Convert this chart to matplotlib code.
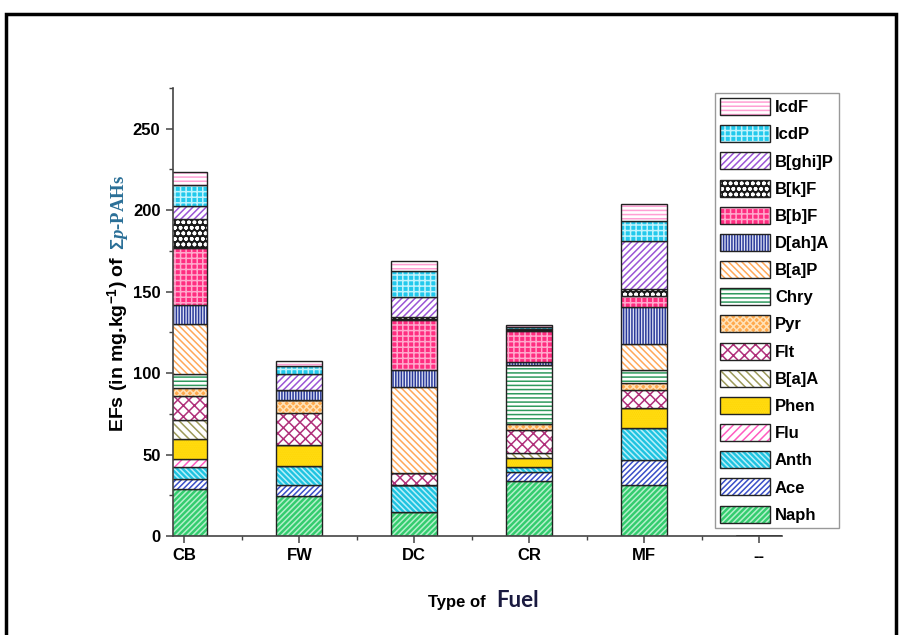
import matplotlib
matplotlib.use("Agg")
import matplotlib.pyplot as plt
import numpy as np
from matplotlib.patches import Patch, Rectangle
from matplotlib.ticker import FixedLocator, MultipleLocator


fuels = ["CB", "FW", "DC", "CR", "MF", "--"]

# stacked from the bottom up
pahs = ["Naph", "Ace", "Anth", "Flu", "Phen", "B[a]A", "Flt", "Pyr",
        "Chry", "B[a]P", "D[ah]A", "B[b]F", "B[k]F", "B[ghi]P", "IcdP", "IcdF"]

naph = [28.6, 24.5, 14.9, 33.9, 31.3, 0]
ace = [6.1, 6.8, 0.0, 5.6, 15.3, 0]
anth = [7.4, 11.6, 16.4, 3.0, 19.4, 0]
flu = [5.1, 0.0, 0.0, 0.0, 0.0, 0]
phen = [12.6, 12.9, 0.0, 5.1, 12.3, 0]
baa = [11.7, 0.0, 0.0, 3.4, 0.0, 0]
flt = [14.3, 19.9, 7.5, 14.0, 11.2, 0]
pyr = [5.3, 7.6, 0.0, 4.0, 4.5, 0]
chry = [8.6, 0.0, 0.0, 35.8, 7.7, 0]
bap = [30.2, 0.0, 52.7, 0.0, 16.3, 0]
daha = [11.6, 6.6, 10.2, 2.0, 22.5, 0]
bbf = [35.4, 0.0, 30.7, 19.0, 6.6, 0]
bkf = [17.8, 0.0, 2.0, 1.0, 4.7, 0]
bghip = [8.1, 9.5, 12.3, 0.0, 29.2, 0]
icdp = [12.9, 4.7, 15.9, 1.5, 12.2, 0]
icdf = [7.5, 3.1, 6.5, 1.0, 10.6, 0]

values = [naph, ace, anth, flu, phen, baa, flt, pyr,
          chry, bap, daha, bbf, bkf, bghip, icdp, icdf]

# (fill, hatch colour, hatch)
styles = [
    ("#33cc6e", "#b4f0cb", "//////"),
    ("white", "#3a4fc8", "//////"),
    ("#1fc3e0", "#b8f0fa", "\\\\\\\\\\\\"),
    ("white", "#ff5cc0", "////"),
    ("#ffe31a", "#ffd000", "........"),
    ("white", "#9c9a5a", "\\\\\\\\"),
    ("white", "#b0307a", "xxx"),
    ("#ffa94d", "#ffe2b8", "xxxxx"),
    ("white", "#2f9a5e", "----"),
    ("white", "#ffa95a", "\\\\\\\\\\"),
    ("#e2e6f6", "#2b3a9a", "||||||"),
    ("#ff2d80", "#ffa8cc", "+++"),
    ("#1a1a1a", "white", "ooo"),
    ("white", "#9b55d6", "/////"),
    ("#22c9ec", "#c0f3fc", "+++"),
    ("white", "#ff9fd4", "----"),
]

plt.rcParams["font.family"] = ["Liberation Sans", "DejaVu Sans"]
plt.rcParams["font.weight"] = "bold"
plt.rcParams["hatch.linewidth"] = 1.1
plt.rcParams["mathtext.fontset"] = "custom"
plt.rcParams["mathtext.rm"] = "Liberation Sans:bold"
plt.rcParams["mathtext.bf"] = "Liberation Sans:bold"
plt.rcParams["mathtext.it"] = "Liberation Serif:italic:bold"

fig = plt.figure(figsize=(9.03, 6.35), dpi=100)
ax = fig.add_axes([173 / 903, 1 - 536 / 635, (782 - 173) / 903, (536 - 88) / 635])

x = np.arange(1, len(fuels) + 1)
width = 0.4
bottom = np.zeros(len(fuels))
handles = []
for name, vals, (fc, hc, h) in zip(pahs, values, styles):
    vals = np.array(vals)
    ax.bar(x, vals, width, bottom=bottom, color=fc, edgecolor=hc, hatch=h, linewidth=0)
    ax.bar(x, vals, width, bottom=bottom, fill=False, edgecolor="#222222", linewidth=1.0)
    bottom += vals
    handles.append((Patch(facecolor=fc, edgecolor=hc, hatch=h, linewidth=0),
                    Patch(facecolor="none", edgecolor="#222222", linewidth=1.0)))

ax.set_xlim(0.9, 6.2)
ax.set_ylim(0, 275)
ax.set_xticks(x)
ax.set_xticklabels(fuels)
ax.xaxis.set_minor_locator(FixedLocator(x[:-1] + 0.5))
ax.yaxis.set_major_locator(MultipleLocator(50))
ax.yaxis.set_minor_locator(MultipleLocator(25))
for s in ["top", "right"]:
    ax.spines[s].set_visible(False)
for s in ["left", "bottom"]:
    ax.spines[s].set_color("#444444")
    ax.spines[s].set_linewidth(1.2)
ax.tick_params(which="major", length=5, width=1.1, color="#444444", labelsize=12, pad=4)
ax.tick_params(which="minor", length=3, width=1.0, color="#444444")
for lab in ax.get_xticklabels() + ax.get_yticklabels():
    lab.set_fontweight("bold")

ax.legend(handles[::-1], pahs[::-1], loc="upper left",
          bbox_to_anchor=(715 / 903, 1 - 93 / 635), bbox_transform=fig.transFigure,
          borderaxespad=0, fancybox=False, edgecolor="#999999", framealpha=1,
          prop={"weight": "bold", "size": 12}, handlelength=3.0, handleheight=1.2,
          labelspacing=0.6, handletextpad=0.3, borderpad=0.3)

# y label in two colours
renderer = fig.canvas.get_renderer()
t1 = fig.text(118 / 903, (635 - 432) / 635, r"EFs (in mg.kg$^{\mathbf{-1}}$) of",
              rotation=90, ha="center", va="bottom", fontsize=14, fontweight="bold")
top1 = t1.get_window_extent(renderer).y1
fig.text(120 / 903, (top1 + 6) / 635, r"$\mathbf{\Sigma}\mathit{p}$-PAHs",
         rotation=90, ha="center", va="bottom", fontsize=13.5, fontweight="bold",
         family=["Liberation Serif", "DejaVu Serif"], color="#2a6f97")

# x label
fig.text(490 / 903, 28 / 635, "Type of ", ha="right", va="baseline",
         fontsize=12, fontweight="bold")
fig.text(496 / 903, 28 / 635, "Fuel", ha="left", va="baseline",
         fontsize=16, fontweight="bold", family=["Lato", "DejaVu Sans"], color="#1a1a40")

# outer frame
fig.patches.append(Rectangle((6 / 903, -0.02), 890 / 903, 1.02 - 14 / 635,
                             transform=fig.transFigure, fill=False,
                             edgecolor="black", linewidth=2.5))

fig.savefig("out.png", dpi=100)
